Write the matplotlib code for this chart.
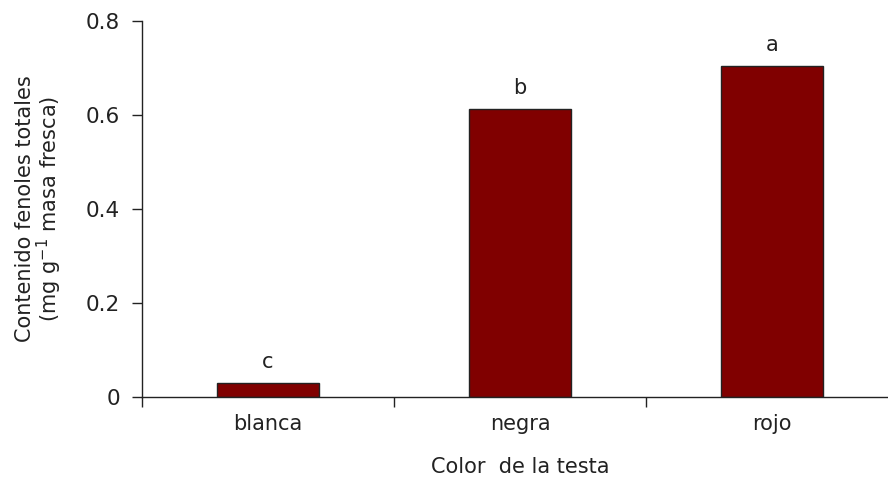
import matplotlib
matplotlib.use('Agg')
from matplotlib import pyplot as plt

categorias = ["blanca", "negra", "rojo"]
fenoles = [0.030, 0.612, 0.704]
letras = ["c", "b", "a"]

plt.rcParams['font.family'] = ['DejaVu Sans']
plt.rcParams['mathtext.fontset'] = 'dejavusans'

fig = plt.figure(figsize=(8.88, 4.78), dpi=100)
ax = fig.add_axes([142 / 888, 81 / 478, 756 / 888, 376 / 478])

x = range(len(categorias))
ax.bar(x, fenoles, width=0.405, color='#800000', edgecolor='#222222', linewidth=1)

for ii in range(len(categorias)):  # letras encima de las barras
    ax.text(ii, fenoles[ii] + 0.032, letras[ii], ha='center', va='baseline',
            fontsize=15, color='#222222')

ax.set_xlim(-0.5, 2.5)
ax.set_ylim(0, 0.8)
ax.set_yticks([0, 0.2, 0.4, 0.6, 0.8])
ax.set_yticklabels(["0", "0.2", "0.4", "0.6", "0.8"])

# marcas entre categorias, etiquetas en el centro
ax.set_xticks([-0.5, 0.5, 1.5, 2.5])
ax.set_xticklabels([])
ax.set_xticks(list(x), minor=True)
ax.set_xticklabels(categorias, minor=True)
ax.tick_params(axis='x', which='minor', length=0, pad=12.5, labelsize=15, labelcolor='#222222')
ax.tick_params(axis='x', which='major', length=7, width=1, color='#222222')
ax.tick_params(axis='y', length=7, width=1, color='#222222', labelsize=15.5, pad=9,
               labelcolor='#222222')

for s in ['top', 'right']:
    ax.spines[s].set_visible(False)
for s in ['left', 'bottom']:
    ax.spines[s].set_color('#222222')
    ax.spines[s].set_linewidth(1)

ax.set_xlabel("Color  de la testa", fontsize=15, labelpad=16, color='#222222')
ax.set_ylabel("Contenido fenoles totales\n(mg g$^{-1}$ masa fresca)", fontsize=15,
              color='#222222', linespacing=1.0)
ax.yaxis.label.set_va('center')
ax.yaxis.set_label_coords(-0.136, 0.5)

plt.savefig('out.png', dpi=100)
